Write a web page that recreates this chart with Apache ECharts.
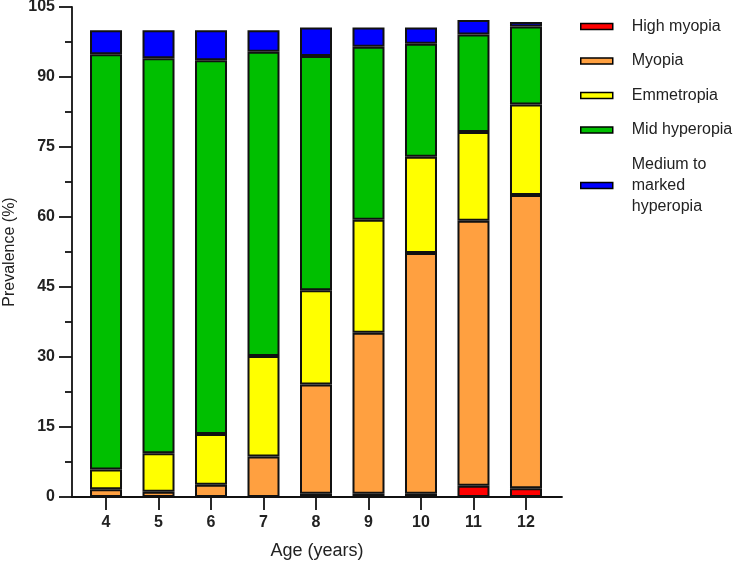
<!DOCTYPE html>
<html>
<head>
<meta charset="utf-8">
<script src="https://cdn.jsdelivr.net/npm/echarts@6/dist/echarts.min.js"></script>
<style>html,body{margin:0;padding:0;background:#fff;}#c{width:735px;height:562px;}</style>
</head>
<body>
<div id="c"></div>
<script>
const ages = [4, 5, 6, 7, 8, 9, 10, 11, 12];
const highMyopia = [0, 0, 0, 0, 0.7, 0.7, 0.7, 2.4, 1.9];
const myopia = [1.65, 1.1, 2.6, 8.7, 23.4, 34.5, 51.6, 56.8, 62.8];
const emmetropia = [4.25, 8.3, 10.9, 21.5, 20.2, 24.2, 20.6, 19.0, 19.4];
const midHyperopia = [89.0, 84.6, 80.1, 65.2, 50.2, 37.1, 24.2, 20.9, 16.7];
const mediumMarkedHyperopia = [5.1, 6.0, 6.4, 4.6, 6.1, 4.1, 3.5, 3.1, 1.0];
const yTicks = [0, 15, 30, 45, 60, 75, 90, 105];
const seriesNames = ['High myopia', 'Myopia', 'Emmetropia', 'Mid hyperopia', 'Medium to\nmarked\nhyperopia'];
const seriesColors = ['#ff0000', '#ffa040', '#ffff00', '#00bf00', '#0000ff'];
const seriesData = [highMyopia, myopia, emmetropia, midHyperopia, mediumMarkedHyperopia];

const font = 'Arial, "Liberation Sans", sans-serif';
const chart = echarts.init(document.getElementById('c'), null, {renderer: 'canvas'});
chart.setOption({
  animation: false,
  backgroundColor: '#ffffff',
  grid: {left: 72, right: 173, top: 7, bottom: 65, containLabel: false, outerBoundsMode: 'none'},
  legend: {
    orient: 'vertical',
    left: 580,
    top: 16,
    padding: 0,
    itemWidth: 32,
    itemHeight: 6,
    itemGap: 13.5,
    icon: 'rect',
    data: seriesNames,
    textStyle: {fontFamily: font, fontSize: 16, color: '#222', lineHeight: 21, padding: [0, 0, 0, 14]},
    itemStyle: {borderColor: '#000', borderWidth: 1.5}
  },
  xAxis: {
    type: 'value',
    min: 3.352,
    max: 12.686,
    name: 'Age (years)',
    nameLocation: 'middle',
    nameGap: 45,
    nameTextStyle: {fontFamily: font, fontSize: 18, color: '#222'},
    axisLine: {show: true, lineStyle: {color: '#111', width: 1.8}},
    axisTick: {show: true, customValues: ages, length: 13, lineStyle: {color: '#111', width: 1.8}},
    axisLabel: {customValues: ages, margin: 18, fontFamily: font, fontSize: 16, fontWeight: 'bold', color: '#222'},
    splitLine: {show: false}
  },
  yAxis: {
    type: 'value',
    min: 0,
    max: 105,
    interval: 15,
    name: 'Prevalence (%)',
    nameLocation: 'middle',
    nameGap: 53,
    nameTextStyle: {fontFamily: font, fontSize: 16, color: '#222'},
    axisLine: {show: true, lineStyle: {color: '#111', width: 1.8}},
    axisTick: {show: true, length: 13, lineStyle: {color: '#111', width: 1.8}},
    minorTick: {show: true, splitNumber: 2, length: 7, lineStyle: {color: '#111', width: 1.8}},
    axisLabel: {margin: 17, fontFamily: font, fontSize: 16, fontWeight: 'bold', color: '#222',
      customValues: yTicks},
    splitLine: {show: false}
  },
  series: seriesData.map((arr, i) => ({
    name: seriesNames[i],
    type: 'bar',
    stack: 'total',
    barWidth: 32,
    encode: {x: 1, y: 0},
    data: arr.map((v, j) => [v, ages[j]]),
    itemStyle: {color: seriesColors[i], borderColor: '#111', borderWidth: 2}
  }))
});
</script>
</body>
</html>
